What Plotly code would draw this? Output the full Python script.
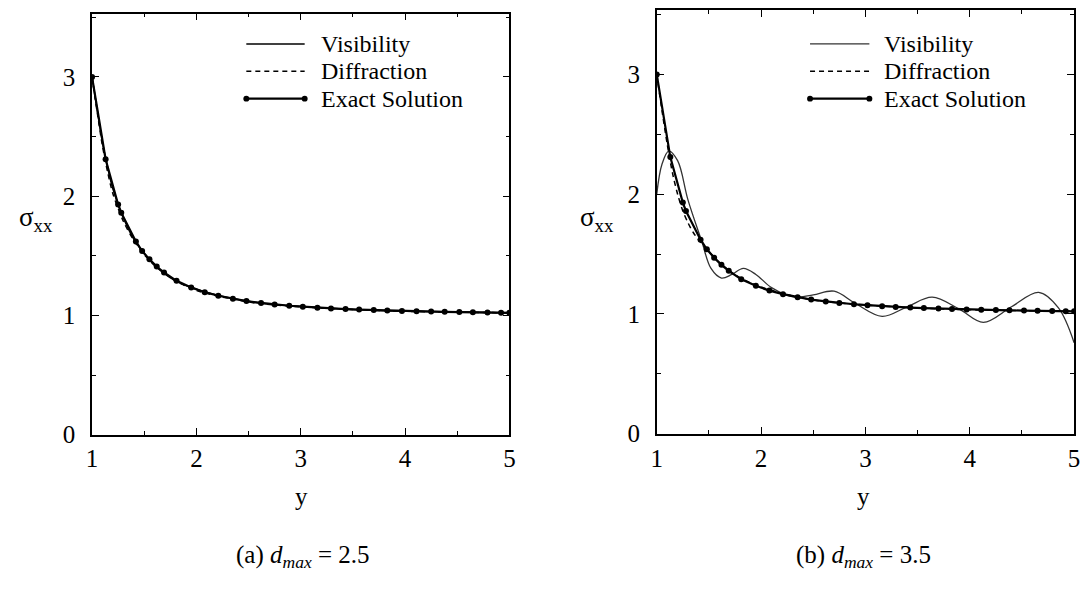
import plotly.graph_objects as go

# ---------------- data ----------------
x_exact = [1.0, 1.13, 1.25, 1.28, 1.42, 1.48, 1.55, 1.62, 1.69, 1.81, 1.95, 2.08, 2.21,
           2.35, 2.48, 2.62, 2.75, 2.89, 3.02, 3.16, 3.29, 3.43, 3.56, 3.70, 3.83, 3.97,
           4.11, 4.25, 4.38, 4.52, 4.65, 4.79, 4.92, 5.0]
exact = [3.00, 2.31, 1.93, 1.86, 1.62, 1.54, 1.47, 1.41, 1.36, 1.29, 1.235, 1.195, 1.165,
         1.14, 1.12, 1.105, 1.092, 1.081, 1.073, 1.065, 1.059, 1.053, 1.049, 1.045, 1.041,
         1.038, 1.035, 1.032, 1.030, 1.028, 1.026, 1.025, 1.023, 1.022]

# panel (a)  d_max = 2.5
x_vis_a = [1.0, 1.05, 1.1, 1.15, 1.2, 1.3, 1.4, 1.5, 1.6, 1.8, 2.0, 2.3, 2.6, 3.0, 3.5, 4.0, 4.5, 5.0]
vis_a = [3.0, 2.72, 2.45, 2.24, 2.06, 1.82, 1.64, 1.52, 1.42, 1.29, 1.22, 1.15, 1.105, 1.075,
         1.05, 1.035, 1.028, 1.022]
x_dif_a = [1.0, 1.05, 1.1, 1.15, 1.2, 1.3, 1.4, 1.5, 1.6, 1.8, 2.0, 2.3, 2.6, 3.0, 3.5, 4.0, 4.5, 5.0]
dif_a = [3.0, 2.70, 2.42, 2.20, 2.02, 1.79, 1.63, 1.51, 1.42, 1.29, 1.21, 1.145, 1.10, 1.072,
         1.05, 1.035, 1.027, 1.022]

# panel (b)  d_max = 3.5
x_vis_b = [1.0, 1.05, 1.115, 1.2, 1.3, 1.43, 1.52, 1.62, 1.72, 1.83, 1.95, 2.1, 2.32, 2.5,
           2.70, 2.9, 3.16, 3.4, 3.64, 3.9, 4.13, 4.4, 4.66, 4.85, 5.0]
vis_b = [2.0, 2.25, 2.36, 2.28, 1.95, 1.61, 1.38, 1.30, 1.33, 1.38, 1.33, 1.22, 1.14, 1.16,
         1.19, 1.09, 0.98, 1.06, 1.14, 1.04, 0.93, 1.06, 1.18, 1.05, 0.76]
x_dif_b = [1.0, 1.05, 1.1, 1.15, 1.2, 1.25, 1.3, 1.35, 1.4, 1.45, 1.5, 1.6, 1.7, 1.8, 2.0,
           2.3, 2.6, 3.0, 3.5, 4.0, 4.5, 5.0]
dif_b = [3.0, 2.70, 2.42, 2.18, 2.0, 1.86, 1.76, 1.68, 1.62, 1.57, 1.52, 1.43, 1.36, 1.30,
         1.225, 1.15, 1.105, 1.075, 1.05, 1.035, 1.028, 1.022]

x_ticks = [1, 2, 3, 4, 5]
y_ticks = [0, 1, 2, 3]
series_names = ["Visibility", "Diffraction", "Exact Solution"]
captions = ["(a) <i>d</i><sub><i>max</i></sub> = 2.5", "(b) <i>d</i><sub><i>max</i></sub> = 3.5"]

# ---------------- figure ----------------
W, H = 1089, 604
FONT = "Liberation Serif"
fig = go.Figure()


def px_x(p):
    return p / W


def px_y(p):
    return 1 - p / H


panels = [
    dict(xa="x", ya="y", vis=(x_vis_a, vis_a), dif=(x_dif_a, dif_a), viscol="black", viswidth=1.5),
    dict(xa="x2", ya="y2", vis=(x_vis_b, vis_b), dif=(x_dif_b, dif_b), viscol="#333333", viswidth=1.3),
]
for p in panels:
    fig.add_trace(go.Scatter(x=p["vis"][0], y=p["vis"][1], mode="lines", name=series_names[0],
                             line=dict(color=p["viscol"], width=p["viswidth"], shape="spline", smoothing=1.0),
                             xaxis=p["xa"], yaxis=p["ya"], showlegend=False))
    fig.add_trace(go.Scatter(x=p["dif"][0], y=p["dif"][1], mode="lines", name=series_names[1],
                             line=dict(color="black", width=1.5, dash="5px,4px", shape="spline", smoothing=0.8),
                             xaxis=p["xa"], yaxis=p["ya"], showlegend=False))
    fig.add_trace(go.Scatter(x=x_exact, y=exact, mode="lines+markers", name=series_names[2],
                             line=dict(color="black", width=2.2),
                             marker=dict(color="black", size=6),
                             xaxis=p["xa"], yaxis=p["ya"], showlegend=False))

axis_common = dict(showline=True, linecolor="black", linewidth=1.6, mirror="allticks",
                   ticks="inside", ticklen=7, tickwidth=1.4, tickcolor="black",
                   showgrid=False, zeroline=False,
                   tickfont=dict(family=FONT, size=25, color="black"),
                   minor=dict(dtick=0.5, ticks="inside", ticklen=4, tickwidth=1.2, tickcolor="black", showgrid=False))

fig.update_layout(
    width=W, height=H, margin=dict(l=0, r=0, t=0, b=0),
    paper_bgcolor="white", plot_bgcolor="white", showlegend=False,
    xaxis=dict(domain=[px_x(87), px_x(509)], range=[1, 5], tickvals=x_ticks, anchor="y",
               ticklabelstandoff=1, **axis_common),
    yaxis=dict(domain=[px_y(445), px_y(14)], range=[0, 3.53], tickvals=y_ticks, anchor="x",
               ticklabelstandoff=10, **axis_common),
    xaxis2=dict(domain=[px_x(658), px_x(1080)], range=[1, 5], tickvals=x_ticks, anchor="y2",
                ticklabelstandoff=1, **axis_common),
    yaxis2=dict(domain=[px_y(444), px_y(10)], range=[0, 3.54], tickvals=y_ticks, anchor="x2",
                ticklabelstandoff=10, **axis_common),
)

annotations = []
shapes = []


def label(text, cx, cy, size, xanchor="center"):
    return dict(text=text, x=px_x(cx), y=px_y(cy), xref="paper", yref="paper",
                xanchor=xanchor, yanchor="middle", showarrow=False,
                font=dict(family=FONT, size=size, color="black"))


# axis titles
for cx, cy in [(299, 508), (867, 508)]:
    annotations.append(label("y", cx, cy, 25))
for cx, cy in [(30, 224), (598, 224)]:
    annotations.append(label("σ<sub>xx</sub>", cx, cy, 27))
# captions
for cap, cx in zip(captions, [300, 867]):
    annotations.append(label(cap, cx, 570, 25))

# legends (one per panel)
legend_specs = [
    dict(x0=243, x1=302, tx=316, rows=[45, 73, 101], viscol="black", viswidth=1.5),
    dict(x0=813, x1=873, tx=886, rows=[45, 73, 101], viscol="#333333", viswidth=1.3),
]
for L in legend_specs:
    r = L["rows"]
    shapes.append(dict(type="line", xref="paper", yref="paper", x0=px_x(L["x0"]), x1=px_x(L["x1"]),
                       y0=px_y(r[0]), y1=px_y(r[0]), line=dict(color=L["viscol"], width=L["viswidth"])))
    shapes.append(dict(type="line", xref="paper", yref="paper", x0=px_x(L["x0"]), x1=px_x(L["x1"]),
                       y0=px_y(r[1]), y1=px_y(r[1]), line=dict(color="black", width=1.5, dash="5px,4px")))
    shapes.append(dict(type="line", xref="paper", yref="paper", x0=px_x(L["x0"]), x1=px_x(L["x1"]),
                       y0=px_y(r[2]), y1=px_y(r[2]), line=dict(color="black", width=2.2)))
    for ex in (L["x0"], L["x1"]):
        shapes.append(dict(type="circle", xref="paper", yref="paper",
                           x0=px_x(ex - 3), x1=px_x(ex + 3), y0=px_y(r[2] - 3), y1=px_y(r[2] + 3),
                           fillcolor="black", line=dict(color="black", width=0)))
    for name, ry in zip(series_names, r):
        annotations.append(label(name, L["tx"], ry, 24, xanchor="left"))

fig.update_layout(annotations=annotations, shapes=shapes)
fig.write_html("out.html")
